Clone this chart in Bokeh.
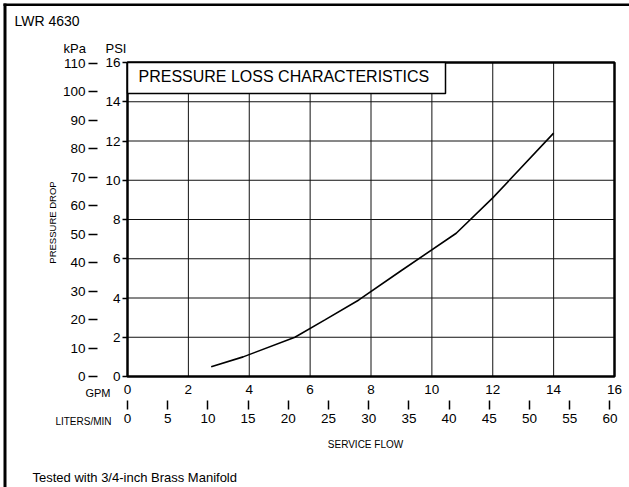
from bokeh.plotting import figure
from bokeh.models import Range1d, LinearAxis, FixedTicker, Label, BoxAnnotation
from bokeh.embed import file_html
from bokeh.resources import INLINE
import math

# ---- data ----
flow_gpm = [2.75, 3.8, 5.5, 6.5, 7.6, 9.0, 10.8, 12.0, 14.0]
drop_psi = [0.5, 1.0, 2.0, 2.9, 3.9, 5.4, 7.3, 9.1, 12.4]

gpm_ticks = [0, 2, 4, 6, 8, 10, 12, 14, 16]
lpm_ticks = [0, 5, 10, 15, 20, 25, 30, 35, 40, 45, 50, 55, 60]
psi_ticks = [0, 2, 4, 6, 8, 10, 12, 14, 16]
kpa_ticks = [0, 10, 20, 30, 40, 50, 60, 70, 80, 90, 100, 110]

GPM_MAX = 16
PSI_MAX = 16
LPM_PER_GPM = 3.78541
KPA_PER_PSI = 6.89476

title_text = "PRESSURE LOSS CHARACTERISTICS"
model_text = "LWR 4630"
note_text = "Tested with 3/4-inch Brass Manifold"

FONT = "Liberation Sans"

# ---- layout (pixels) ----
W, H = 629, 487
FL, FR, FT, FB = 127, 614, 62, 376   # chart box edges in page px

def dx(px):
    return (px - FL) * GPM_MAX / (FR - FL)

def dy(py):
    return (FB - py) * PSI_MAX / (FB - FT)

xr = Range1d(dx(0), dx(W))
yr = Range1d(dy(H), dy(0))

p = figure(width=W, height=H, x_range=xr, y_range=yr,
           output_backend="svg", toolbar_location=None,
           x_axis_location=None, y_axis_location=None, min_border=0)
p.title.visible = False
p.outline_line_color = None
p.outline_line_alpha = 0
p.outline_line_width = 0
p.background_fill_color = None
p.border_fill_color = None
p.xgrid.visible = False
p.ygrid.visible = False
p.extra_x_ranges = {"lpm": Range1d(xr.start * LPM_PER_GPM, xr.end * LPM_PER_GPM)}
p.extra_y_ranges = {"kpa": Range1d(yr.start * KPA_PER_PSI, yr.end * KPA_PER_PSI)}

def make_axis(ticks, **kw):
    ax = LinearAxis(**kw)
    ax.ticker = FixedTicker(ticks=ticks)
    ax.axis_line_color = None
    ax.minor_tick_line_color = None
    ax.minor_tick_out = 0
    ax.minor_tick_in = 0
    ax.major_tick_line_color = "black"
    ax.major_tick_line_width = 1.5
    ax.major_tick_in = 0
    ax.major_label_text_font = FONT
    ax.major_label_text_font_size = "13.5px"
    ax.major_label_text_color = "black"
    return ax

# PSI axis on the chart's left edge
psi_ax = make_axis(psi_ticks, fixed_location=0)
psi_ax.major_tick_out = 5
psi_ax.major_label_standoff = 2
p.add_layout(psi_ax, "left")

# kPa axis further left
kpa_ax = make_axis(kpa_ticks, y_range_name="kpa", fixed_location=dx(97))
kpa_ax.major_tick_out = 9
kpa_ax.major_label_standoff = 3
p.add_layout(kpa_ax, "left")

# GPM axis on the chart's bottom edge
gpm_ax = make_axis(gpm_ticks, fixed_location=0)
gpm_ax.major_tick_out = 0
gpm_ax.major_label_standoff = 8
p.add_layout(gpm_ax, "below")

# Liters/min axis below
lpm_ax = make_axis(lpm_ticks, x_range_name="lpm", fixed_location=dy(400))
lpm_ax.major_tick_out = 9
lpm_ax.major_label_standoff = 4
p.add_layout(lpm_ax, "below")

# grid lines from the tick lists
inner_x = gpm_ticks[1:-1]
inner_y = psi_ticks[1:-1]
p.segment(x0=inner_x, y0=[0] * len(inner_x), x1=inner_x, y1=[PSI_MAX] * len(inner_x),
          line_color="#111111", line_width=1)
p.segment(x0=[0] * len(inner_y), y0=inner_y, x1=[GPM_MAX] * len(inner_y), y1=inner_y,
          line_color="#111111", line_width=1)

# curve
p.line(flow_gpm, drop_psi, line_color="black", line_width=1.6)

# chart box outline
p.add_layout(BoxAnnotation(left=0, right=GPM_MAX, bottom=0, top=PSI_MAX,
                           fill_alpha=0, line_color="black", line_width=2.5, line_alpha=1.0))

# title box
p.add_layout(BoxAnnotation(left=0, right=dx(445), top=PSI_MAX, bottom=dy(93),
                           fill_color="white", fill_alpha=1.0,
                           line_color="black", line_width=1.5, line_alpha=1.0))

# outer border lines of the sheet
p.add_layout(BoxAnnotation(left=dx(3), right=dx(6), top=dy(3), bottom=dy(H),
                           fill_color="black", fill_alpha=1.0, line_color=None, line_alpha=0))
p.add_layout(BoxAnnotation(left=dx(3), right=dx(W), top=dy(3), bottom=dy(5.5),
                           fill_color="black", fill_alpha=1.0, line_color=None, line_alpha=0))

def lab(text, px, py, size, align="left", angle=0.0):
    p.add_layout(Label(x=dx(px), y=dy(py), text=text, text_font=FONT,
                       text_font_size=size, text_color="black",
                       text_align=align, text_baseline="middle", angle=angle))

lab(title_text, 138, 76, "16px")
lab(model_text, 14, 20, "14px")
lab("kPa", 63, 48, "13px")
lab("PSI", 105, 48, "13px")
lab("PRESSURE DROP", 52, 222, "9.5px", align="center", angle=math.pi / 2)
lab("GPM", 110, 392, "11px", align="right")
lab("LITERS/MIN", 111, 421, "10px", align="right")
lab("SERVICE FLOW", 365, 444, "10px", align="center")
lab(note_text, 32, 477, "13px")

open("out.html", "w").write(file_html(p, INLINE))
